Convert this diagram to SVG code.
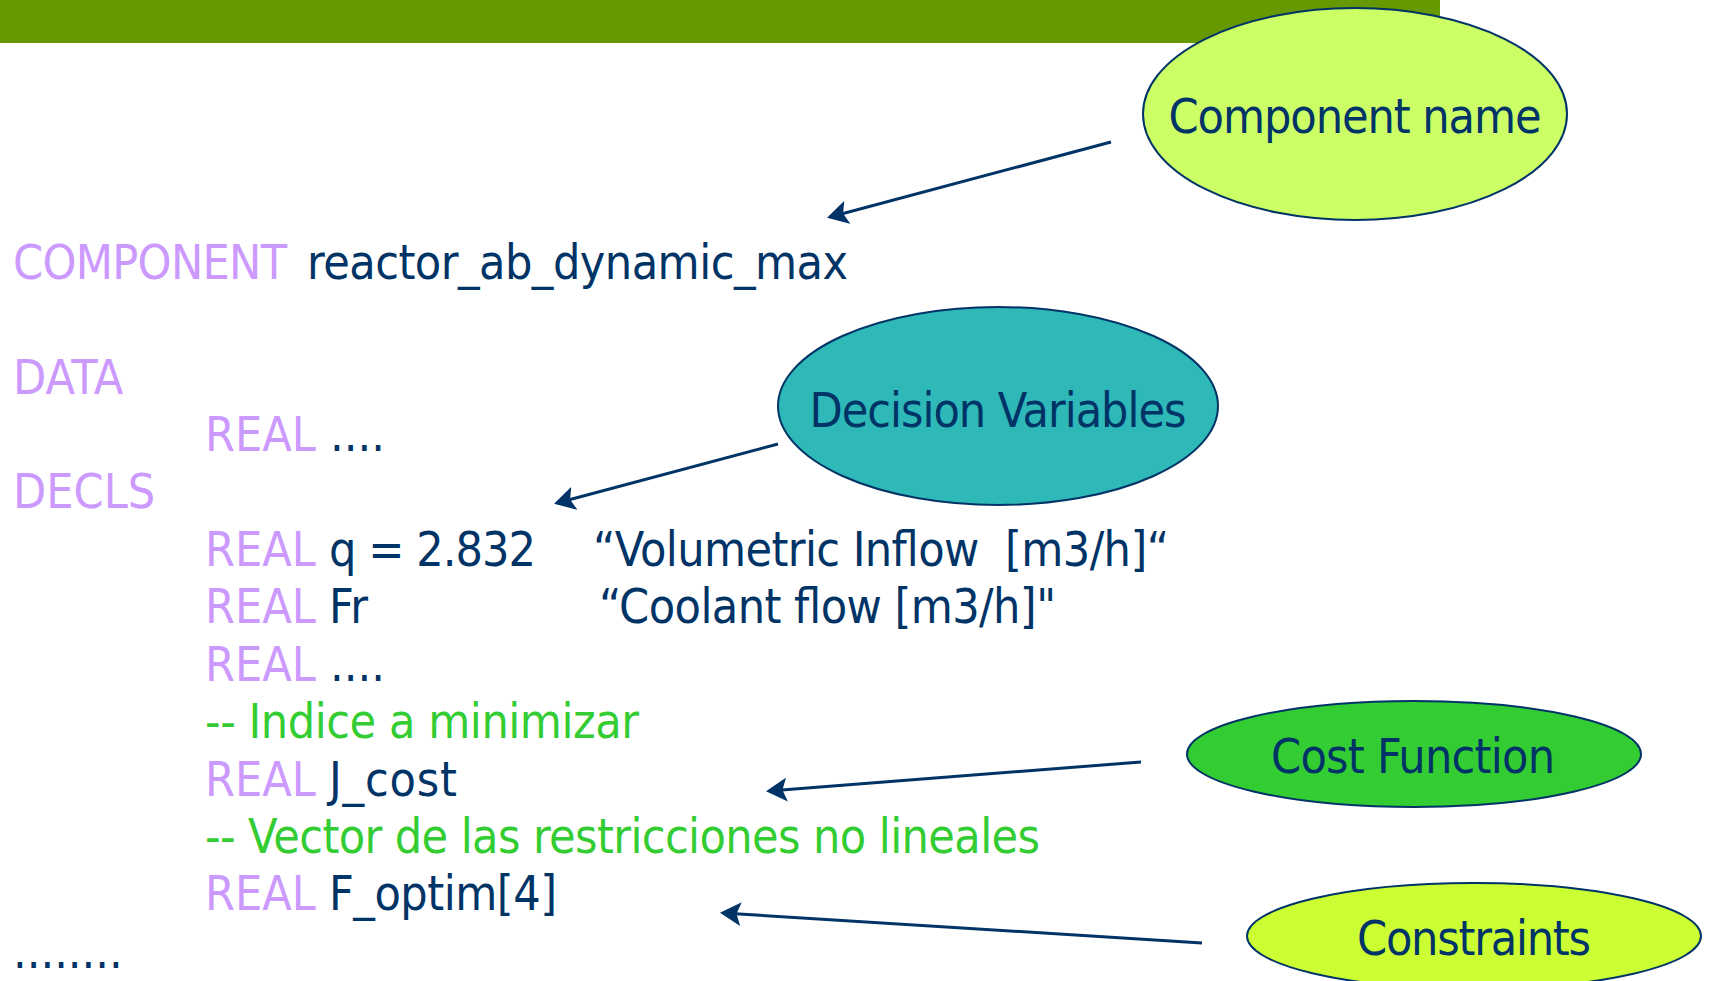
<svg xmlns="http://www.w3.org/2000/svg" width="1710" height="981" viewBox="0 0 1710 981">
<style>
text{font-family:"DejaVu Sans Condensed","DejaVu Sans",sans-serif;font-stretch:condensed;font-size:48px;white-space:pre}
.kw{fill:#CC99FF}
.tx{fill:#003366}
.cm{fill:#33CC33}
.lbl{fill:#003366;text-anchor:middle}
.bub{stroke:#003366;stroke-width:2}
.arr{stroke:#003366;stroke-width:3;fill:none;marker-end:url(#ah)}
</style>
<defs>
<marker id="ah" markerWidth="8" markerHeight="8" refX="6" refY="4" orient="auto" markerUnits="strokeWidth">
<path d="M0,0 L7,4 L0,8 L1.5,4 Z" fill="#003366"/>
</marker>
</defs>
<rect x="0" y="0" width="1440" height="43" fill="#669900"/>
<g id="code">
<text x="13" y="279" class="kw" textLength="274">COMPONENT</text>
<text x="307" y="279" class="tx" textLength="541">reactor_ab_dynamic_max</text>
<text x="13" y="394" class="kw">DATA</text>
<text x="205" y="451" class="kw">REAL</text>
<text x="330" y="451" class="tx">....</text>
<text x="13" y="508" class="kw">DECLS</text>
<text x="205" y="566" class="kw">REAL</text>
<text x="329" y="566" class="tx" textLength="207">q = 2.832</text>
<text x="593" y="566" class="tx" xml:space="preserve" textLength="576">“Volumetric Inflow  [m3/h]“</text>
<text x="205" y="623" class="kw">REAL</text>
<text x="329" y="623" class="tx">Fr</text>
<text x="599" y="623" class="tx" textLength="457">“Coolant flow [m3/h]"</text>
<text x="205" y="681" class="kw">REAL</text>
<text x="330" y="681" class="tx">....</text>
<text x="205" y="738" class="cm" textLength="434">-- Indice a minimizar</text>
<text x="205" y="796" class="kw">REAL</text>
<text x="329" y="796" class="tx" textLength="128">J_cost</text>
<text x="205" y="853" class="cm" textLength="835">-- Vector de las restricciones no lineales</text>
<text x="205" y="910" class="kw">REAL</text>
<text x="329" y="910" class="tx" textLength="228">F_optim[4]</text>
<text x="13" y="968" class="tx">........</text>
</g>
<g id="connectors">
<line class="arr" x1="1111" y1="142" x2="830" y2="217"/>
<line class="arr" x1="778" y1="444" x2="557" y2="503"/>
<line class="arr" x1="1141" y1="762" x2="769" y2="791"/>
<line class="arr" x1="1202" y1="943" x2="723" y2="913"/>
</g>
<g id="component-name">
<ellipse class="bub" cx="1355" cy="114" rx="212" ry="106" fill="#CCFF66"/>
<text class="lbl" x="1355" y="133" textLength="373">Component name</text>
</g>
<g id="decision-variables">
<ellipse class="bub" cx="998" cy="406" rx="220" ry="99" fill="#2EB8B8"/>
<text class="lbl" x="998" y="427" textLength="377">Decision Variables</text>
</g>
<g id="cost-function">
<ellipse class="bub" cx="1414" cy="754" rx="227" ry="53" fill="#33CC33"/>
<text class="lbl" x="1413" y="773" textLength="284">Cost Function</text>
</g>
<g id="constraints">
<ellipse class="bub" cx="1474" cy="936" rx="227" ry="53" fill="#CCFF33"/>
<text class="lbl" x="1474" y="955" textLength="234">Constraints</text>
</g>
</svg>
